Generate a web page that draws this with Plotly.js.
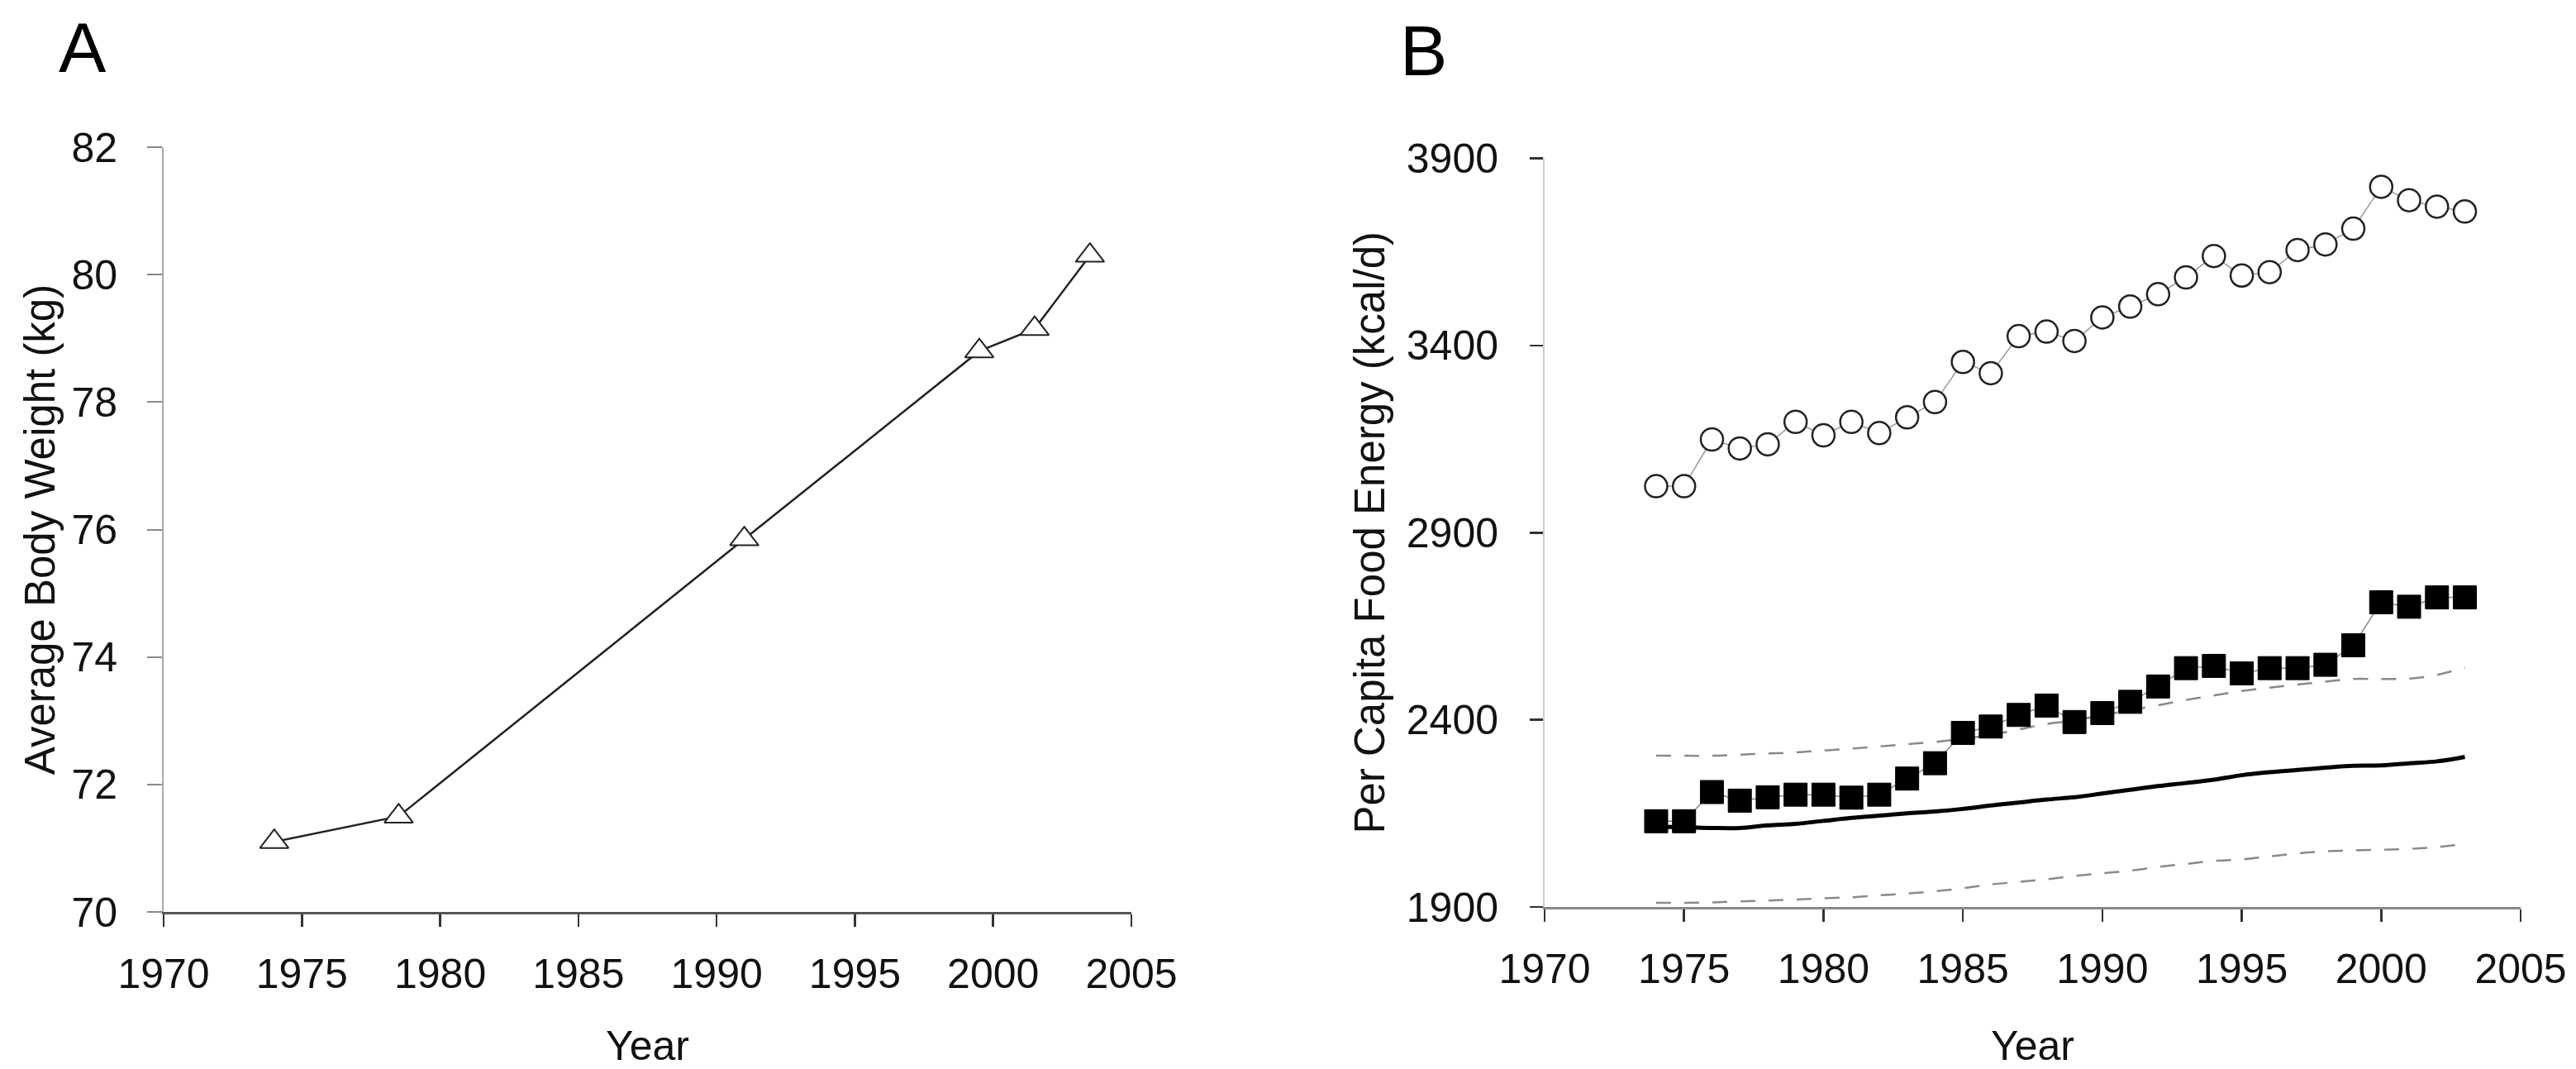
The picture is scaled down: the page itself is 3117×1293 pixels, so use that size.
<!DOCTYPE html>
<html>
<head>
<meta charset="utf-8">
<script src="https://cdn.plot.ly/plotly-3.0.1.min.js"></script>
<style>
  html, body { margin: 0; padding: 0; background: #fff; }
  #chart { width: 3117px; height: 1293px; }
</style>
</head>
<body>
<div id="chart"></div>
<script>
// ---- Panel A: average body weight ----
const yearsA = [1974, 1978.5, 1991, 1999.5, 2001.5, 2003.5];
const bodyWeight = [71.1, 71.5, 75.85, 78.8, 79.15, 80.3];

// ---- Panel B: per capita food energy ----
const yearsB = [1974, 1975, 1976, 1977, 1978, 1979, 1980, 1981, 1982, 1983,
                1984, 1985, 1986, 1987, 1988, 1989, 1990, 1991, 1992, 1993,
                1994, 1995, 1996, 1997, 1998, 1999, 2000, 2001, 2002, 2003];
const supplyEnergy = [3024, 3024, 3149, 3125, 3136, 3196, 3160, 3196, 3166, 3208,
                      3249, 3356, 3326, 3425, 3437, 3412, 3475, 3504, 3537, 3582,
                      3639, 3587, 3596, 3655, 3670, 3712, 3824, 3788, 3771, 3758];
const wasteEnergy = [2129, 2129, 2207, 2184, 2193, 2200, 2200, 2192, 2200, 2243,
                     2284, 2365, 2382, 2413, 2438, 2394, 2418, 2448, 2489, 2538,
                     2544, 2524, 2538, 2538, 2547, 2599, 2714, 2702, 2727, 2727];
const requirement = [2114, 2113, 2111, 2111, 2118, 2122, 2130, 2138, 2144, 2150,
                     2155, 2162, 2171, 2179, 2187, 2193, 2203, 2213, 2223, 2231,
                     2240, 2252, 2260, 2266, 2272, 2277, 2278, 2284, 2289, 2301];
const requirementUpper = [2304, 2304, 2304, 2307, 2310, 2313, 2318, 2323, 2329, 2335,
                          2341, 2349, 2360, 2374, 2389, 2398, 2412, 2426, 2439, 2453,
                          2465, 2477, 2486, 2494, 2502, 2509, 2509, 2510, 2520, 2540];
const requirementLower = [1911, 1911, 1912, 1915, 1917, 1920, 1923, 1926, 1931, 1936,
                          1942, 1950, 1960, 1967, 1974, 1983, 1990, 1997, 2007, 2015,
                          2023, 2027, 2035, 2043, 2049, 2051, 2053, 2055, 2060, 2068];

const xTicks = [1970, 1975, 1980, 1985, 1990, 1995, 2000, 2005];
const yTicksA = [70, 72, 74, 76, 78, 80, 82];
const yTicksB = [1900, 2400, 2900, 3400, 3900];

const FONT = '"Liberation Sans", Arial, Helvetica, sans-serif';

const traces = [
  {
    x: yearsA, y: bodyWeight, xaxis: 'x', yaxis: 'y',
    mode: 'lines+markers', type: 'scatter',
    line: {color: '#222', width: 2.5},
    marker: {symbol: 'triangle-up', size: 30, color: '#fff', line: {color: '#222', width: 2}}
  },
  {
    x: yearsB, y: requirementUpper, xaxis: 'x2', yaxis: 'y2',
    mode: 'lines', type: 'scatter', line: {color: '#8a8a8a', width: 2.5, dash: '18px,16px', shape: 'spline'}
  },
  {
    x: yearsB, y: requirementLower, xaxis: 'x2', yaxis: 'y2',
    mode: 'lines', type: 'scatter', line: {color: '#8a8a8a', width: 2.5, dash: '18px,16px', shape: 'spline'}
  },
  {
    x: yearsB, y: requirement, xaxis: 'x2', yaxis: 'y2',
    mode: 'lines', type: 'scatter', line: {color: '#000', width: 5, shape: 'spline'}
  },
  {
    x: yearsB, y: wasteEnergy, xaxis: 'x2', yaxis: 'y2',
    mode: 'lines+markers', type: 'scatter',
    line: {color: '#888', width: 1.5},
    marker: {symbol: 'square', size: 28, color: '#000', line: {color: '#000', width: 1}}
  },
  {
    x: yearsB, y: supplyEnergy, xaxis: 'x2', yaxis: 'y2',
    mode: 'lines+markers', type: 'scatter',
    line: {color: '#999', width: 1.5},
    marker: {symbol: 'circle', size: 27, color: '#fff', line: {color: '#222', width: 2.5}}
  }
];

const xCommon = {
  range: [1970, 2005], tickvals: xTicks, ticktext: xTicks.map(String),
  showgrid: false, zeroline: false, showline: true, linecolor: '#555', linewidth: 2.5,
  ticks: 'outside', ticklen: 15, tickwidth: 2.5, tickcolor: '#333',
  ticklabelstandoff: 14,
  tickfont: {family: FONT, size: 50, color: '#111'},
  title: {text: 'Year', font: {family: FONT, size: 50, color: '#111'}, standoff: 50},
  automargin: false, fixedrange: true
};

const layout = {
  width: 3117, height: 1293,
  margin: {l: 0, r: 0, t: 0, b: 0},
  paper_bgcolor: '#fff', plot_bgcolor: '#fff',
  showlegend: false,
  font: {family: FONT, color: '#111'},
  xaxis: Object.assign({}, xCommon, {domain: [198/3117, 1369/3117], anchor: 'y'}),
  yaxis: {
    domain: [190/1293, 1115/1293], anchor: 'x',
    range: [70, 82], tickvals: yTicksA, ticktext: yTicksA.map(String),
    showgrid: false, zeroline: false, showline: true, linecolor: '#aaa', linewidth: 2,
    ticks: 'outside', ticklen: 18, tickwidth: 2, tickcolor: '#888',
    ticklabelstandoff: 26,
    tickfont: {family: FONT, size: 50, color: '#111'},
    title: {text: 'Average Body Weight (kg)', font: {family: FONT, size: 51, color: '#111'}, standoff: 4},
    automargin: false, fixedrange: true
  },
  xaxis2: Object.assign({}, xCommon, {domain: [1869/3117, 3050/3117], anchor: 'y2', linecolor: '#888'}),
  yaxis2: {
    domain: [196/1293, 1101.5/1293], anchor: 'x2',
    range: [1900, 3900], tickvals: yTicksB, ticktext: yTicksB.map(String),
    showgrid: false, zeroline: false, showline: true, linecolor: '#ccc', linewidth: 2,
    ticks: 'outside', ticklen: 16, tickwidth: 2.5, tickcolor: '#333',
    ticklabelstandoff: 28,
    tickfont: {family: FONT, size: 50, color: '#111'},
    title: {text: 'Per Capita Food Energy (kcal/d)', font: {family: FONT, size: 51, color: '#111'}, standoff: 10},
    automargin: false, fixedrange: true
  },
  annotations: [
    {text: 'A', xref: 'paper', yref: 'paper', x: 100/3117, y: 1 - 57/1293,
     xanchor: 'center', yanchor: 'middle', showarrow: false,
     font: {family: FONT, size: 86, color: '#000'}},
    {text: 'B', xref: 'paper', yref: 'paper', x: 1722/3117, y: 1 - 61/1293,
     xanchor: 'center', yanchor: 'middle', showarrow: false,
     font: {family: FONT, size: 86, color: '#000'}}
  ]
};

Plotly.newPlot('chart', traces, layout, {displayModeBar: false, staticPlot: true});
</script>
</body>
</html>
